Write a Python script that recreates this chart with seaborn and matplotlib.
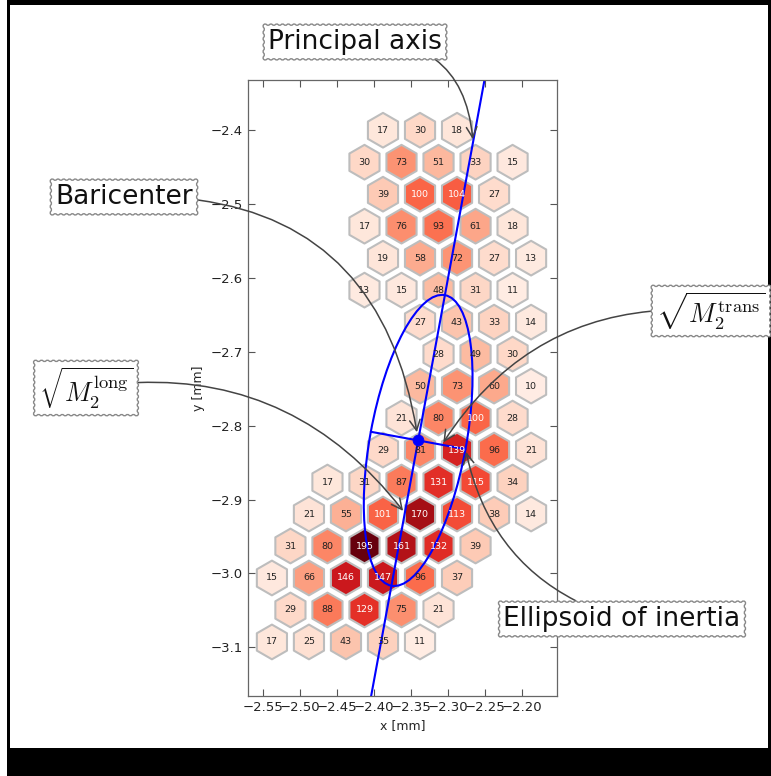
import numpy as np
import matplotlib
matplotlib.use("Agg")
import matplotlib.pyplot as plt
import seaborn as sns
from matplotlib.patches import RegularPolygon, Ellipse, Rectangle
from matplotlib.collections import PatchCollection
from matplotlib.ticker import MultipleLocator

# hex grid: first column index of each row and the counts along the row
row_first_col = [0, -1, 0, -1, 0, -1, 2, 3, 2, 1, 0, -3, -4, -5, -6, -5, -6]
row_counts = [
    [17, 30, 18],
    [30, 73, 51, 33, 15],
    [39, 100, 104, 27],
    [17, 76, 93, 61, 18],
    [19, 58, 72, 27, 13],
    [13, 15, 48, 31, 11],
    [27, 43, 33, 14],
    [28, 49, 30],
    [50, 73, 60, 10],
    [21, 80, 100, 28],
    [29, 81, 139, 96, 21],
    [17, 31, 87, 131, 115, 34],
    [21, 55, 101, 170, 113, 38, 14],
    [31, 80, 195, 161, 132, 39],
    [15, 66, 146, 147, 96, 37],
    [29, 88, 129, 75, 21],
    [17, 25, 43, 35, 11],
]
grid_x0 = -2.388      # x of column 0 [mm]
grid_y0 = -2.40       # y of row 0 [mm]
pitch = 0.05          # hex centre spacing [mm]

# moments
bari_x, bari_y = -2.3405, -2.820
axis_angle = 79.6     # deg
semi_long = 0.20
semi_trans = 0.065

sns.set_style("ticks")
plt.rcParams["mathtext.fontset"] = "cm"
cmap = sns.color_palette("Reds", as_cmap=True)

fig = plt.figure(figsize=(7.71, 7.76), dpi=100)
# photo-like frame around the figure
fig.patches.append(Rectangle((7 / 771, 0), 764 / 771, 1, transform=fig.transFigure,
                             facecolor="black", edgecolor="none", zorder=-2))
fig.patches.append(Rectangle((9.5 / 771, 28 / 776), 758 / 771, 743 / 776,
                             transform=fig.transFigure, facecolor="white",
                             edgecolor="none", zorder=-1))

ax = fig.add_axes([248 / 771, 80 / 776, 309 / 771, 616 / 776])

xs, ys, vals = [], [], []
for r, (c0, counts) in enumerate(zip(row_first_col, row_counts)):
    for k, v in enumerate(counts):
        xs.append(grid_x0 + (c0 + 2 * k) * pitch / 2)
        ys.append(grid_y0 - r * pitch * np.sqrt(3) / 2)
        vals.append(v)
vals = np.array(vals)

hexes = [RegularPolygon((x, y), numVertices=6, radius=0.0235) for x, y in zip(xs, ys)]
pc = PatchCollection(hexes, cmap=cmap, edgecolor="#bdbdbd", linewidth=1.5)
pc.set_array(vals)
pc.set_clim(0, 195)
ax.add_collection(pc)
for x, y, v in zip(xs, ys, vals):
    ax.text(x, y, str(v), ha="center", va="center", fontsize=6.8,
            color="white" if v >= 100 else "#222222")

th = np.deg2rad(axis_angle)
ax.axline((bari_x, bari_y), slope=np.tan(th), color="blue", lw=1.5)
ax.plot([bari_x - semi_trans * np.sin(th), bari_x + semi_trans * np.sin(th)],
        [bari_y + semi_trans * np.cos(th), bari_y - semi_trans * np.cos(th)],
        color="blue", lw=1.5)
ax.add_patch(Ellipse((bari_x, bari_y), 2 * semi_long, 2 * semi_trans, angle=axis_angle,
                     fill=False, edgecolor="blue", lw=1.5))
sns.scatterplot(x=[bari_x], y=[bari_y], color="blue", s=60, edgecolor="blue",
                ax=ax, zorder=5)

ax.set_xlim(-2.5703, -2.153)
ax.set_ylim(-3.166, -2.332)
ax.xaxis.set_major_locator(MultipleLocator(0.05))
ax.yaxis.set_major_locator(MultipleLocator(0.1))
ax.tick_params(direction="in", top=True, right=True, length=5, color="#555555",
               labelsize=9.5, labelcolor="#222222")
for s in ax.spines.values():
    s.set_color("#666666")
    s.set_linewidth(0.9)
ax.set_xlabel("x [mm]", fontsize=9)
ax.set_ylabel("y [mm]", fontsize=9)

box = dict(boxstyle="roundtooth,pad=0.22", facecolor="white", edgecolor="#888888", lw=1)


def note(text, tip, pos, rad, shrink=2):
    ax.annotate(text, xy=tip, xycoords="data", xytext=(pos[0], 776 - pos[1]),
                textcoords="figure pixels", ha="center", va="center", fontsize=19,
                color="#111111", bbox=box, annotation_clip=False,
                arrowprops=dict(arrowstyle="->", color="#444444", lw=1.1,
                                connectionstyle=f"arc3,rad={rad}",
                                shrinkA=0, shrinkB=shrink))


y_tip = -2.416
note("Principal axis", (bari_x + (y_tip - bari_y) / np.tan(th), y_tip), (355, 42), -0.5)
note("Baricenter", (bari_x, bari_y), (124, 197), -0.45, shrink=6)
note(r"$\sqrt{M_2^{\mathrm{trans}}}$",
     (bari_x + semi_trans / 2 * np.sin(th), bari_y - semi_trans / 2 * np.cos(th)),
     (711, 311), 0.3)
note(r"$\sqrt{M_2^{\mathrm{long}}}$",
     (bari_x - semi_long / 2 * np.cos(th), bari_y - semi_long / 2 * np.sin(th)),
     (86, 388), -0.3)
note("Ellipsoid of inertia",
     (bari_x + semi_trans * np.sin(th), bari_y - semi_trans * np.cos(th)),
     (622, 619), -0.3)

fig.savefig("out.png", dpi=100)
